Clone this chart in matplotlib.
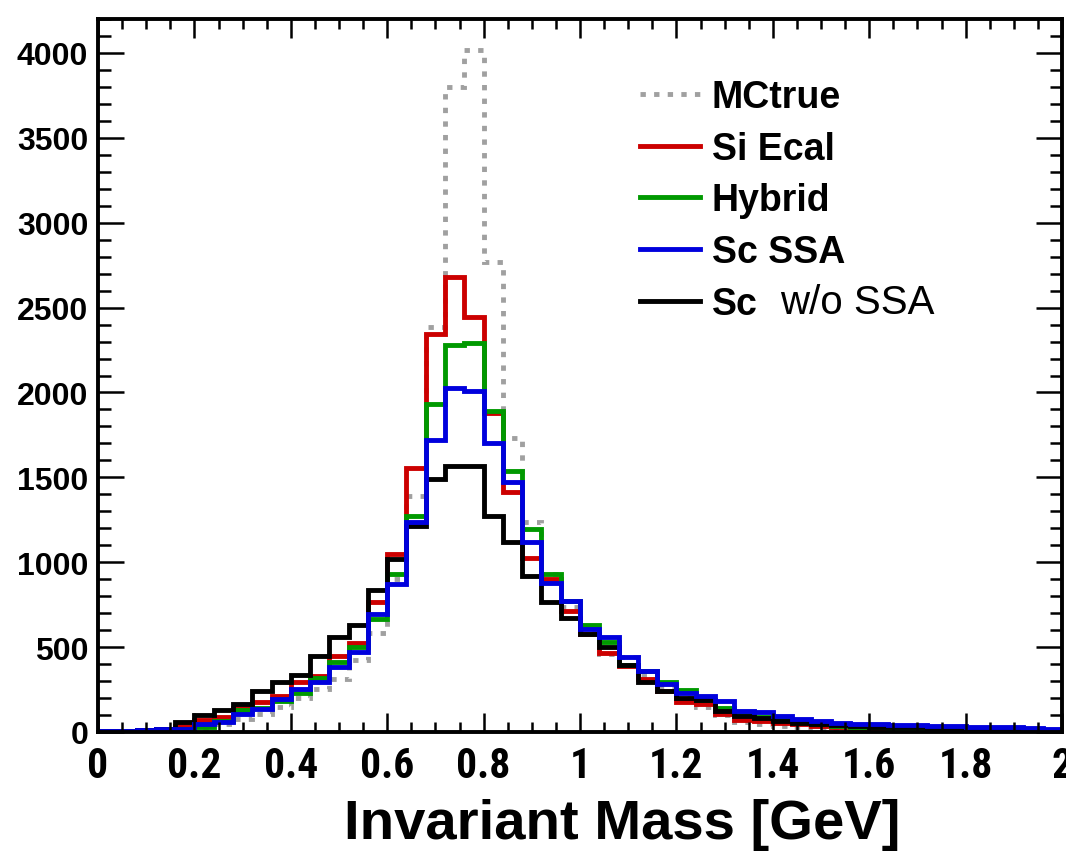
import numpy as np
import matplotlib
matplotlib.use("Agg")
import matplotlib.pyplot as plt
from matplotlib import font_manager
from matplotlib.ticker import MultipleLocator, FuncFormatter

# 50 bins of 0.04 GeV from 0 to 2
edges = np.linspace(0, 2, 51)

mc_true = [0, 0, 2, 5, 12, 25, 45, 75, 106, 150,
           200, 255, 312, 423, 585, 900, 1390, 2387, 3797, 4020,
           2770, 1729, 1237, 930, 735, 600, 460, 440, 331, 270,
           200, 150, 100, 60, 45, 35, 30, 25, 20, 18,
           15, 12, 10, 10, 8, 7, 6, 5, 4, 3]
si_ecal = [3, 5, 10, 20, 33, 72, 86, 139, 175, 210,
           294, 330, 445, 527, 767, 1047, 1558, 2346, 2681, 2442,
           1882, 1411, 1027, 900, 713, 580, 468, 390, 312, 240,
           174, 167, 106, 70, 65, 55, 45, 38, 30, 25,
           22, 18, 15, 15, 12, 10, 10, 8, 8, 6]
hybrid = [2, 4, 6, 10, 15, 27, 65, 129, 140, 180,
          229, 321, 410, 498, 664, 933, 1272, 1934, 2278, 2293,
          1889, 1537, 1194, 933, 770, 629, 531, 394, 360, 296,
          249, 190, 140, 120, 90, 75, 62, 50, 38, 32,
          28, 25, 22, 20, 22, 15, 12, 12, 10, 10]
sc_ssa = [5, 8, 10, 15, 18, 47, 57, 106, 135, 194,
          253, 292, 380, 472, 694, 870, 1237, 1723, 2027, 2011,
          1703, 1474, 1121, 880, 772, 606, 557, 439, 361, 282,
          230, 215, 184, 125, 120, 92, 76, 67, 53, 47,
          47, 43, 40, 38, 35, 30, 30, 28, 25, 18]
sc_no_ssa = [3, 5, 10, 20, 57, 100, 129, 165, 243, 292,
             337, 445, 557, 629, 837, 1021, 1213, 1488, 1566, 1566,
             1272, 1121, 919, 768, 670, 576, 498, 394, 292, 243,
             198, 190, 125, 92, 80, 65, 55, 45, 40, 35,
             30, 28, 30, 25, 22, 20, 22, 18, 15, 12]

labels = ["MCtrue", "Si Ecal", "Hybrid", "Sc SSA", "Sc"]

fonts = font_manager.fontManager.ttflist
names = {f.name for f in fonts}
bold_font = "Liberation Sans" if "Liberation Sans" in names else "DejaVu Sans"

# condensed face for the x tick labels, if one is around
narrow_font, narrow_stretch = bold_font, "normal"
for cand in ["Liberation Sans Narrow", "Roboto Condensed", "Open Sans Condensed"]:
    if cand in names:
        narrow_font = cand
        break
else:
    if any(f.name == "DejaVu Sans" and f.stretch == "condensed" for f in fonts):
        narrow_font, narrow_stretch = "DejaVu Sans", "condensed"

fig = plt.figure(figsize=(10.66, 8.53), dpi=100)
ax = fig.add_axes([98 / 1066, 1 - 733 / 853, 964 / 1066, 713 / 853])

lw = 3.5
h_mc = ax.stairs(mc_true, edges, color="#a0a0a0", lw=lw,
                 linestyle=(0, (1.1, 1.7)))
h_si = ax.stairs(si_ecal, edges, color="#cc0000", lw=lw)
h_hy = ax.stairs(hybrid, edges, color="#009900", lw=lw)
h_no = ax.stairs(sc_no_ssa, edges, color="black", lw=lw)
h_sc = ax.stairs(sc_ssa, edges, color="#0000dd", lw=lw)

ax.set_xlim(0, 2)
ax.set_ylim(0, 4200)

ax.xaxis.set_major_locator(MultipleLocator(0.2))
ax.xaxis.set_minor_locator(MultipleLocator(0.05))
ax.yaxis.set_major_locator(MultipleLocator(500))
ax.yaxis.set_minor_locator(MultipleLocator(100))
ax.xaxis.set_major_formatter(FuncFormatter(lambda v, p: "%g" % round(v, 2)))

ax.tick_params(which="both", direction="in", top=True, right=True, width=1.8)
ax.xaxis.set_tick_params(which="major", length=14, pad=9)
ax.xaxis.set_tick_params(which="minor", length=7)
ax.yaxis.set_tick_params(which="major", length=19, pad=7)
ax.yaxis.set_tick_params(which="minor", length=9)

for lab in ax.get_xticklabels():
    lab.set_family(narrow_font)
    lab.set_fontstretch(narrow_stretch)
    lab.set_fontweight("bold")
    lab.set_fontsize(30)
for lab in ax.get_yticklabels():
    lab.set_family(bold_font)
    lab.set_fontweight("bold")
    lab.set_fontsize(23)

for s in ax.spines.values():
    s.set_linewidth(2.8)

fig.text(622 / 1066, 1 - 839 / 853, "Invariant Mass [GeV]", ha="center",
         va="baseline", fontsize=40.5, fontweight="heavy", family=bold_font)

leg = ax.legend([h_mc, h_si, h_hy, h_sc, h_no], labels,
                loc="upper left", bbox_to_anchor=((640 - 98) / 964, (733 - 80) / 713),
                frameon=False, borderpad=0, borderaxespad=0,
                handlelength=1.6, handletextpad=0.32, labelspacing=0.42,
                prop={"family": bold_font, "weight": "bold", "size": 27})

# the "w/o SSA" part of the last entry sits raised, in a lighter weight
ax.text((780 - 98) / 964, (733 - 314) / 713, "w/o SSA", transform=ax.transAxes,
        ha="left", va="baseline", fontsize=29, family=bold_font,
        fontweight="normal", fontstretch="normal")

fig.savefig("out.png", dpi=100)
